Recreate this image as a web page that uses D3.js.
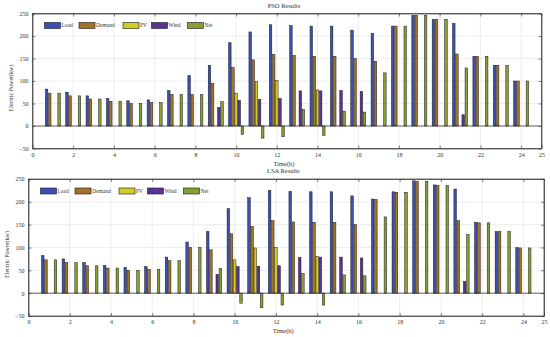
<!DOCTYPE html>
<html>
<head>
<meta charset="utf-8">
<script src="https://cdn.jsdelivr.net/npm/d3@7"></script>
<style>
  body { margin: 0; background: #fff; }
  svg { display: block; }
  text { font-family: "Liberation Serif", "DejaVu Serif", serif; fill: #333; }
</style>
</head>
<body>
<div id="chart"></div>
<script>
// hours 1..24
const hours = d3.range(1, 25);
const seriesNames = ['Load', 'Demand', 'PV', 'Wind', 'Net'];
const xTicks = [0, 2, 4, 6, 8, 10, 12, 14, 16, 18, 20, 22, 24, 25];
const yTicks = [-50, 0, 50, 100, 150, 200, 250];

// same load for both runs
const load = [82, 75, 67, 61, 56, 58, 79, 112, 135, 185, 209, 225, 223, 222, 222, 213, 206, 222, 246, 237, 228, 155, 135, 100];

// PSO
const psoDemand = [73, 67, 60, 55, 50, 52, 70, 70, 95, 130, 147, 159, 157, 155, 155, 150, 144, 222, 246, 237, 160, 155, 135, 100];
const psoPV     = [0, 0, 0, 0, 0, 0, 0, 0, 0, 73, 99, 101, 0, 80, 0, 0, 0, 0, 0, 0, 0, 0, 0, 0];
const psoWind   = [0, 0, 0, 0, 0, 0, 0, 0, 41, 57, 59, 61, 78, 78, 79, 77, 0, 0, 0, 0, 25, 0, 0, 0];
const psoNet    = [73, 67, 60, 55, 50, 52, 70, 70, 54, -19, -27, -24, 37, -21, 33, 31, 118, 222, 246, 237, 129, 155, 135, 100];

// LSA
const lsaDemand = [73, 67, 60, 55, 50, 52, 71, 100, 95, 130, 146, 159, 156, 155, 155, 150, 205, 221, 245, 236, 159, 154, 135, 99];
const lsaPV     = [0, 0, 0, 0, 0, 0, 0, 0, 0, 73, 99, 100, 0, 80, 0, 0, 0, 0, 0, 0, 0, 0, 0, 0];
const lsaWind   = [0, 0, 0, 0, 0, 0, 0, 0, 41, 58, 59, 60, 78, 79, 79, 77, 0, 0, 0, 0, 26, 0, 0, 0];
const lsaNet    = [73, 67, 60, 55, 50, 52, 71, 100, 54, -22, -32, -26, 43, -26, 40, 38, 167, 221, 245, 236, 128, 154, 135, 99];

const colors = ['#3c50b4', '#a27424', '#d2cc26', '#5a3494', '#86a034'];

const panels = [
  { title: 'PSO Results', series: [load, psoDemand, psoPV, psoWind, psoNet],
    left: 32.5, right: 541.5, top: 13.5, bottom: 148.5 },
  { title: 'LSA Results', series: [load, lsaDemand, lsaPV, lsaWind, lsaNet],
    left: 28.5, right: 544, top: 179, bottom: 316 }
];

const svg = d3.select('#chart').append('svg')
  .attr('width', 550)
  .attr('height', 337);

// matlab style grouped bars
const groupW = 5 / 6.5;
const slot = groupW / 5;
const barW = slot * 0.8;

panels.forEach(p => {
  const x = d3.scaleLinear().domain([0, 25]).range([p.left, p.right]);
  const y = d3.scaleLinear().domain([-50, 250]).range([p.bottom, p.top]);
  const g = svg.append('g');

  // grid
  g.selectAll('.gx').data(xTicks.slice(1, -1)).enter().append('line')
    .attr('x1', d => x(d)).attr('x2', d => x(d))
    .attr('y1', p.top).attr('y2', p.bottom)
    .attr('stroke', '#e2e2e2').attr('stroke-width', 0.6);
  g.selectAll('.gy').data(yTicks.slice(1, -1)).enter().append('line')
    .attr('x1', p.left).attr('x2', p.right)
    .attr('y1', d => y(d)).attr('y2', d => y(d))
    .attr('stroke', '#e2e2e2').attr('stroke-width', 0.6);

  // bars
  p.series.forEach((vals, i) => {
    const off = -groupW / 2 + slot * (i + 0.5);
    g.selectAll('.b' + i).data(vals).enter().append('rect')
      .attr('x', (d, j) => x(hours[j] + off - barW / 2))
      .attr('width', x(barW) - x(0))
      .attr('y', d => y(Math.max(0, d)))
      .attr('height', d => Math.abs(y(d) - y(0)))
      .attr('fill', colors[i])
      .attr('stroke', '#1a1a1a')
      .attr('stroke-width', 0.5)
      .style('display', d => d === 0 ? 'none' : null);
  });

  // baseline
  g.append('line')
    .attr('x1', p.left).attr('x2', p.right)
    .attr('y1', y(0)).attr('y2', y(0))
    .attr('stroke', '#222').attr('stroke-width', 0.7);

  // axes, ticks inward like matlab
  const fmt = d3.format('d');
  g.append('g').attr('transform', `translate(0,${p.bottom})`)
    .call(d3.axisBottom(x).tickValues(xTicks).tickFormat(fmt).tickSizeInner(-3).tickSizeOuter(0).tickPadding(4));
  g.append('g').attr('transform', `translate(0,${p.top})`)
    .call(d3.axisTop(x).tickValues(xTicks).tickFormat('').tickSizeInner(-3).tickSizeOuter(0));
  g.append('g').attr('transform', `translate(${p.left},0)`)
    .call(d3.axisLeft(y).tickValues(yTicks).tickFormat(fmt).tickSizeInner(-3).tickSizeOuter(0).tickPadding(4));
  g.append('g').attr('transform', `translate(${p.right},0)`)
    .call(d3.axisRight(y).tickValues(yTicks).tickFormat('').tickSizeInner(-3).tickSizeOuter(0));
  g.selectAll('.domain').attr('stroke', '#333').attr('stroke-width', 0.7);
  g.selectAll('.tick line').attr('stroke', '#333').attr('stroke-width', 0.6);
  g.selectAll('.tick text').attr('font-size', 6).attr('font-family', '"Liberation Serif", serif').attr('fill', '#444');

  // box
  g.append('rect')
    .attr('x', p.left).attr('y', p.top)
    .attr('width', p.right - p.left).attr('height', p.bottom - p.top)
    .attr('fill', 'none').attr('stroke', '#333').attr('stroke-width', 0.7);

  const cx = (p.left + p.right) / 2 - 3;
  g.append('text').attr('x', cx).attr('y', p.top - 6)
    .attr('text-anchor', 'middle').attr('font-size', 6.5).text(p.title);
  g.append('text').attr('x', cx).attr('y', p.bottom + 17)
    .attr('text-anchor', 'middle').attr('font-size', 6.5).text('Time(h)');
  g.append('text')
    .attr('transform', `translate(${p.left - 20},${(p.top + p.bottom) / 2 + 7}) rotate(-90)`)
    .attr('text-anchor', 'middle').attr('font-size', 6).text('Electric Power(kw)');

  // legend
  const legX = [12, 46.5, 90.5, 119, 155];
  const leg = g.append('g').attr('transform', `translate(${p.left},${p.top + 9})`);
  seriesNames.forEach((n, i) => {
    leg.append('rect').attr('x', legX[i]).attr('y', 0)
      .attr('width', 16).attr('height', 6)
      .attr('fill', colors[i]).attr('stroke', '#1a1a1a').attr('stroke-width', 0.6);
    leg.append('text').attr('x', legX[i] + 17).attr('y', 4.5)
      .attr('font-size', 5.5).text(n);
  });
});
</script>
</body>
</html>
